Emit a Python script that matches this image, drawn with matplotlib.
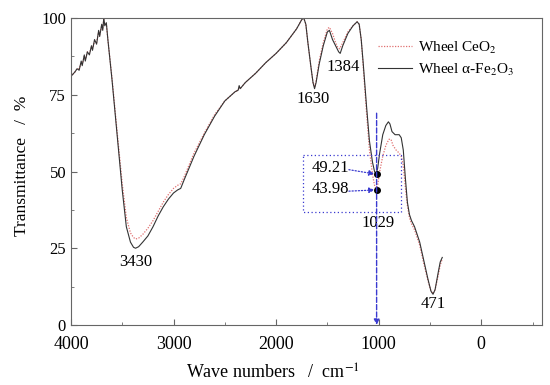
import numpy as np
import matplotlib.pyplot as plt
from matplotlib.ticker import MultipleLocator

plt.rcParams['font.family'] = ['Liberation Serif', 'DejaVu Serif']
plt.rcParams['mathtext.fontset'] = 'stix'

# wavenumber (cm-1) and transmittance (%)
wn_fe = [4000, 3960, 3940, 3920, 3900, 3890, 3870, 3860, 3840, 3820, 3800, 3790,
         3770, 3750, 3730, 3720, 3700, 3690, 3680, 3670, 3655, 3640, 3600, 3550,
         3500, 3460, 3420, 3390, 3370, 3340, 3300, 3250, 3200, 3150, 3100, 3050,
         3000, 2960, 2930, 2900, 2850, 2800, 2700, 2600, 2500, 2400, 2370, 2360,
         2350, 2300, 2200, 2100, 2000, 1900, 1800, 1750, 1730, 1710, 1690, 1660,
         1640, 1625, 1610, 1580, 1540, 1500, 1480, 1450, 1420, 1390, 1375, 1350,
         1300, 1250, 1210, 1190, 1170, 1150, 1120, 1090, 1060, 1040, 1025, 1010,
         990, 960, 930, 905, 890, 870, 840, 800, 780, 760, 740, 720, 700, 680,
         650, 600, 560, 520, 490, 470, 450, 420, 400, 380]
tr_fe = [81, 82.5, 83.5, 83, 86, 84.5, 88, 86, 89, 88, 91, 89.5,
         93, 91.5, 96, 94, 98, 96, 100, 97.5, 98.5, 93, 80, 62,
         44, 32, 27, 25.3, 25, 25.5, 27, 29, 32, 35.5, 38.5, 41,
         43, 44, 44.5, 47, 51, 55, 62, 68, 73, 76, 76.5, 78,
         77, 79, 82, 85.5, 88.5, 92, 96.5, 99.5, 100, 98, 92, 84,
         79, 77, 79, 85, 91, 95.5, 96, 93, 91, 89, 88.5, 91,
         95, 97.5, 98.8, 98, 93, 85, 72, 60, 53, 50, 49.2, 51,
         56, 62, 65, 66.2, 65.5, 63, 62, 62, 61, 57, 48, 40, 36, 34,
         32, 27, 21, 15, 11, 10, 11.5, 17, 20.5, 22]

wn_ce = [4000, 3960, 3940, 3920, 3900, 3890, 3870, 3860, 3840, 3820, 3800, 3790,
         3770, 3750, 3730, 3720, 3700, 3690, 3680, 3670, 3655, 3640, 3600, 3550,
         3500, 3460, 3420, 3390, 3370, 3340, 3300, 3250, 3200, 3150, 3100, 3050,
         3000, 2960, 2930, 2900, 2850, 2800, 2700, 2600, 2500, 2400, 2370, 2360,
         2350, 2300, 2200, 2100, 2000, 1900, 1800, 1750, 1730, 1710, 1690, 1660,
         1640, 1625, 1610, 1580, 1540, 1500, 1480, 1450, 1420, 1400, 1380, 1350,
         1300, 1250, 1210, 1190, 1170, 1150, 1120, 1090, 1060, 1040, 1025, 1010,
         990, 960, 930, 900, 880, 860, 830, 800, 780, 760, 740, 720, 700, 680,
         650, 600, 560, 520, 490, 470, 450, 420, 400, 380]
tr_ce = [81, 82.5, 83.5, 83.5, 85.5, 85, 87.5, 86.5, 89, 88.5, 90.5, 90,
         92.5, 92, 95.5, 94.5, 97.5, 96.5, 99.5, 98, 98, 93, 80.5, 63,
         46, 35, 30, 28.5, 28, 28.3, 29.5, 31.5, 34, 37, 40, 42.5,
         44.5, 45.5, 46, 48, 52, 56, 62.5, 68.5, 73, 76, 76.5, 77.5,
         77, 79, 82, 85.5, 88.5, 92, 96.5, 99.5, 100, 98, 92, 84,
         79, 77.5, 79.5, 86, 92, 96.5, 97, 95, 92, 90.5, 90, 92,
         95.5, 97.5, 98.8, 98, 93, 84, 70, 57, 49, 45.5, 44, 45.5,
         50, 55, 58.5, 60.5, 60.5, 58.5, 57, 56, 55, 52, 45, 39, 35, 33,
         31, 26, 20, 14.5, 11, 10.2, 11.5, 16, 19.5, 21.5]

peak_labels = ['3430', '1630', '1384', '1029', '471']
peak_pos = [(3370, 20.5), (1637, 73.6), (1343, 84.2), (1010, 33.2), (470, 6.8)]

mark_x = 1020
mark_vals = [49.21, 43.98]
mark_text_y = [51.2, 44.2]

fig, ax = plt.subplots(figsize=(5.5, 3.85), dpi=100)
fig.subplots_adjust(left=0.129, right=0.985, bottom=0.156, top=0.953)

ax.plot(wn_ce, tr_ce, color='#e07070', lw=0.9, ls=(0, (1, 1.2)), label='Wheel CeO$_2$')
ax.plot(wn_fe, tr_fe, color='#333333', lw=0.8, label='Wheel \u03b1-Fe$_2$O$_3$')

ax.set_xlim(4000, -590)
ax.set_ylim(0, 100)
ax.xaxis.set_major_locator(MultipleLocator(1000))
ax.xaxis.set_minor_locator(MultipleLocator(500))
ax.yaxis.set_major_locator(MultipleLocator(25))
ax.yaxis.set_minor_locator(MultipleLocator(12.5))
ax.tick_params(which='both', direction='in', color='#666666')
ax.tick_params(which='major', length=4)
ax.tick_params(which='minor', length=2.5)
ax.tick_params(axis='x', labelsize=13, pad=8)
ax.tick_params(axis='y', labelsize=12)
for s in ax.spines.values():
    s.set_color('#666666')

ax.set_xlabel('Wave numbers   /  cm$^{-1}$', fontsize=13, labelpad=8, x=0.43)
ax.set_ylabel('Transmittance   /  %', fontsize=12.5, labelpad=8, y=0.52)

for lab, (x, y) in zip(peak_labels, peak_pos):
    ax.text(x, y, lab, ha='center', va='center', fontsize=12)

blue = '#3a3ad0'
# dotted box around the marked values
ax.plot([1735, 784, 784, 1735, 1735], [55.4, 55.4, 36.8, 36.8, 55.4],
        color=blue, lw=0.9, ls=(0, (1, 2)))
# dashed vertical guide with arrow
ax.annotate('', xy=(mark_x, 0), xytext=(mark_x, 69),
            arrowprops=dict(arrowstyle='-|>', color=blue, lw=1.0, ls='--',
                            mutation_scale=8, shrinkA=0, shrinkB=0))
for v, ty in zip(mark_vals, mark_text_y):
    ax.text(1470, ty, f'{v:.2f}', ha='center', va='center', fontsize=12)
    ax.annotate('', xy=(mark_x + 20, v), xytext=(1290, ty - 0.6),
                arrowprops=dict(arrowstyle='-|>', color=blue, lw=0.9,
                                ls=(0, (1, 1.5)), mutation_scale=8,
                                shrinkA=0, shrinkB=0))
    ax.plot(mark_x, v, 'o', color='black', ms=4)

ax.legend(loc='upper left', bbox_to_anchor=(0.623, 0.975), frameon=False,
          fontsize=11, handlelength=2.2, handletextpad=0.4, labelspacing=0.4)

fig.savefig('out.png')
